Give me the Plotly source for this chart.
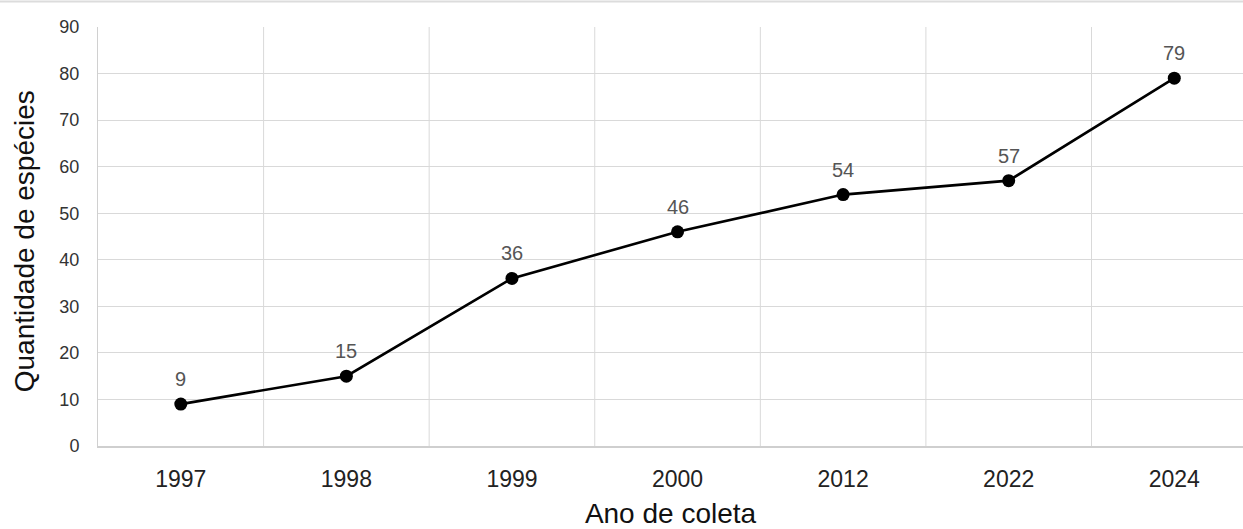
import plotly.graph_objects as go

# Espécies registradas por ano de coleta
anos = ["1997", "1998", "1999", "2000", "2012", "2022", "2024"]
especies = [9, 15, 36, 46, 54, 57, 79]
y_ticks = [0, 10, 20, 30, 40, 50, 60, 70, 80, 90]

FONT = "Liberation Sans, Arial, sans-serif"

fig = go.Figure()
fig.add_trace(go.Scatter(
    x=list(range(len(anos))),
    y=especies,
    mode="lines+markers",
    line=dict(color="#000000", width=2.6),
    marker=dict(color="#000000", size=13),
    hoverinfo="skip",
    showlegend=False,
))

# Rótulos de valor acima de cada ponto
for i, v in enumerate(especies):
    fig.add_annotation(
        x=i, y=v, text=str(v), showarrow=False,
        yshift=25, font=dict(family=FONT, size=20, color="#555555"),
    )

# Título do eixo vertical
fig.add_annotation(
    xref="paper", yref="paper", x=-0.064, y=0.488,
    xanchor="center", yanchor="middle", textangle=-90,
    text="Quantidade de espécies", showarrow=False,
    font=dict(family=FONT, size=28, color="#111111"),
)

# Linha cinza no topo da figura
fig.add_shape(
    type="line", xref="paper", yref="paper",
    x0=-0.1, x1=1.05, y0=1.061, y1=1.061,
    line=dict(color="#dcdcdc", width=2),
)

fig.update_layout(
    width=1243, height=529,
    margin=dict(l=98, r=0, t=27, b=83),
    paper_bgcolor="white", plot_bgcolor="white",
    font=dict(family=FONT),
    xaxis=dict(
        tickmode="array",
        tickvals=list(range(len(anos))),
        ticktext=anos,
        range=[-0.5, 6.415],
        showgrid=False,
        showline=True, linecolor="#cfcfcf", linewidth=2,
        ticks="", zeroline=False,
        ticklabelstandoff=11,
        tickfont=dict(family=FONT, size=23, color="#222222"),
        title=dict(text="Ano de coleta", standoff=19,
                   font=dict(family=FONT, size=28, color="#111111")),
    ),
    yaxis=dict(
        range=[0, 90],
        tickvals=y_ticks,
        showgrid=True, gridcolor="#d9d9d9", gridwidth=1,
        showline=True, linecolor="#d0d0d0", linewidth=1,
        zeroline=False, ticks="",
        ticklabelstandoff=14,
        tickfont=dict(family=FONT, size=18, color="#333333"),
    ),
)

# Linhas verticais da grade nas fronteiras entre categorias
for b in range(len(anos)):
    fig.add_shape(
        type="line", xref="x", yref="y",
        x0=b + 0.5, x1=b + 0.5, y0=0, y1=90,
        line=dict(color="#d9d9d9", width=1), layer="below",
    )

fig.write_html("out.html")
